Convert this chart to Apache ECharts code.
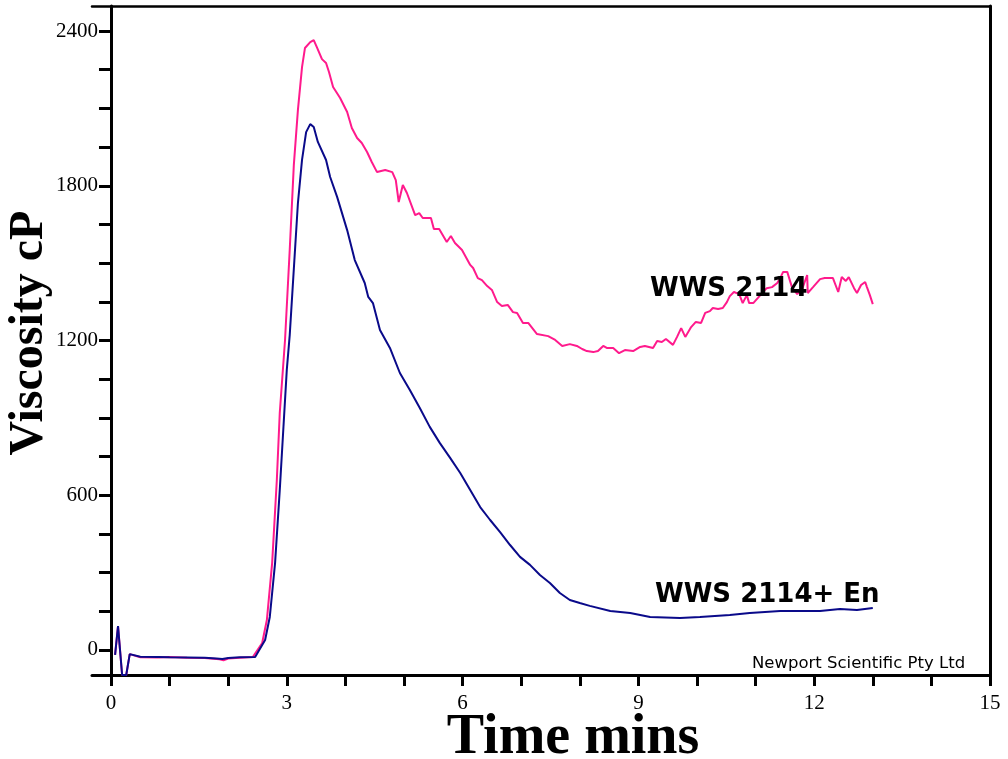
<!DOCTYPE html>
<html>
<head>
<meta charset="utf-8">
<script src="https://cdn.jsdelivr.net/npm/echarts@6/dist/echarts.min.js"></script>
<style>
  html, body { margin: 0; padding: 0; background: #ffffff; }
  #chart { width: 1008px; height: 759px; }
</style>
</head>
<body>
<div id="chart"></div>
<script>
// Viscosity profile (cP) against time (mins) for two samples
const timePink = [0.07, 0.12, 0.19, 0.26, 0.32, 0.5, 0.8, 1.0, 1.3, 1.6, 1.85, 1.92, 2.0, 2.2, 2.42,
  2.58, 2.66, 2.75, 2.83, 2.88, 2.97, 3.05, 3.12, 3.19, 3.26, 3.31, 3.40, 3.46, 3.52, 3.60, 3.67, 3.72,
  3.79, 3.91, 4.03, 4.11, 4.20, 4.28, 4.37, 4.45, 4.54, 4.68, 4.80, 4.86, 4.91, 4.98, 5.05, 5.19, 5.26,
  5.32, 5.46, 5.51, 5.60, 5.73, 5.80, 5.87, 5.99, 6.13, 6.18, 6.26, 6.33, 6.42, 6.50, 6.59, 6.67, 6.77,
  6.86, 6.93, 7.03, 7.12, 7.27, 7.46, 7.58, 7.70, 7.83, 7.95, 8.04, 8.12, 8.23, 8.31, 8.40, 8.46, 8.57,
  8.67, 8.77, 8.91, 9.03, 9.11, 9.25, 9.32, 9.40, 9.47, 9.59, 9.66, 9.73, 9.80, 9.90, 9.98, 10.07, 10.14,
  10.22, 10.27, 10.36, 10.44, 10.51, 10.56, 10.63, 10.72, 10.78, 10.85, 10.89, 10.96, 11.04, 11.11, 11.19,
  11.28, 11.37, 11.42, 11.47, 11.54, 11.62, 11.71, 11.79, 11.88, 11.89, 11.98, 12.10, 12.18, 12.32, 12.41,
  12.47, 12.54, 12.59, 12.68, 12.73, 12.80, 12.87, 12.90, 12.95, 13.00];
const viscPink = [-19, 93, -97, -97, -16, -28, -29, -27, -30, -31, -36, -40, -33, -30, -27,
  27, 116, 337, 659, 919, 1202, 1551, 1880, 2094, 2260, 2334, 2357, 2365, 2334, 2291, 2276, 2241,
  2183, 2140, 2086, 2024, 1985, 1966, 1931, 1892, 1853, 1861, 1853, 1822, 1737, 1803, 1772, 1686, 1694,
  1675, 1675, 1632, 1632, 1582, 1605, 1578, 1551, 1493, 1481, 1442, 1434, 1411, 1396, 1349, 1334, 1338,
  1310, 1307, 1268, 1268, 1225, 1217, 1202, 1179, 1186, 1179, 1167, 1159, 1155, 1159, 1179, 1171, 1171,
  1151, 1163, 1159, 1175, 1179, 1171, 1198, 1194, 1206, 1183, 1214, 1248, 1214, 1252, 1272, 1268, 1307,
  1314, 1326, 1322, 1326, 1349, 1372, 1388, 1380, 1345, 1376, 1345, 1345, 1365, 1384, 1403,
  1407, 1423, 1442, 1466, 1466, 1407, 1380, 1396, 1454, 1384, 1407, 1438, 1442, 1442, 1388,
  1446, 1431, 1446, 1403, 1384, 1415, 1427, 1407, 1376, 1341];

const timeBlue = [0.07, 0.12, 0.19, 0.26, 0.32, 0.5, 0.8, 1.0, 1.3, 1.6, 1.8, 1.9, 2.0, 2.2, 2.46,
  2.63, 2.71, 2.80, 2.88, 2.94, 3.00, 3.05, 3.19, 3.26, 3.33, 3.40, 3.46, 3.53, 3.67, 3.74, 3.86, 4.03,
  4.16, 4.33, 4.39, 4.47, 4.59, 4.76, 4.93, 5.10, 5.27, 5.44, 5.61, 5.79, 5.96, 6.13, 6.30, 6.47, 6.64,
  6.81, 6.98, 7.15, 7.32, 7.49, 7.66, 7.83, 8.00, 8.17, 8.52, 8.86, 9.20, 9.71, 10.05, 10.56, 10.90,
  11.42, 12.10, 12.44, 12.73, 13.00];
const viscBlue = [-19, 93, -97, -97, -16, -26, -27, -28, -29, -30, -33, -35, -31, -28, -27,
  39, 128, 337, 620, 853, 1086, 1221, 1733, 1900, 2008, 2039, 2028, 1970, 1900, 1834, 1756, 1628,
  1512, 1423, 1369, 1345, 1241, 1171, 1074, 1008, 938, 865, 803, 744, 686, 620, 554, 504, 457,
  407, 361, 330, 291, 260, 221, 194, 182, 171, 151, 143, 128, 124, 128, 136, 143,
  151, 151, 159, 155, 163];

// Axis ticks and labels
const xTickValues = [0, 1, 2, 3, 4, 5, 6, 7, 8, 9, 10, 11, 12, 13, 14, 15];
const xLabelValues = [0, 3, 6, 9, 12, 15];
const yTickValues = [0, 150, 300, 450, 600, 750, 900, 1050, 1200, 1350, 1500, 1650, 1800, 1950, 2100, 2250, 2400];
const yLabelValues = [0, 600, 1200, 1800, 2400];

const seriesNames = ['WWS 2114', 'WWS 2114+ En'];
const xTitle = 'Time mins';
const yTitle = 'Viscosity cP';
const footnote = 'Newport Scientific Pty Ltd';

const zip = (xs, ys) => xs.map((x, i) => [x, ys[i]]);

const serif = '"Liberation Serif", "Times New Roman", serif';

const chart = echarts.init(document.getElementById('chart'), null, { renderer: 'canvas' });

chart.setOption({
  animation: false,
  backgroundColor: '#ffffff',
  grid: { left: 92, right: 18, top: 6, bottom: 84, containLabel: false },
  xAxis: [{
    type: 'value',
    min: -0.324,
    max: 15,
    axisLine: { onZero: false, lineStyle: { color: '#000', width: 3 } },
    axisTick: { show: true, customValues: xTickValues, length: 11, inside: false, lineStyle: { color: '#000', width: 3 } },
    axisLabel: { customValues: xLabelValues, margin: 18, color: '#000', fontFamily: serif, fontSize: 21,
      formatter: v => String(v) },
    splitLine: { show: false }
  }, {
    type: 'value',
    position: 'top',
    min: -0.324,
    max: 15,
    axisLine: { onZero: false, lineStyle: { color: '#000', width: 2.5 } },
    axisTick: { show: false },
    axisLabel: { show: false },
    splitLine: { show: false }
  }],
  yAxis: [{
    type: 'value',
    min: -97,
    max: 2497,
    axisLine: { onZero: true, lineStyle: { color: '#000', width: 3 } },
    axisTick: { show: true, customValues: yTickValues, length: 12, lineStyle: { color: '#000', width: 3 } },
    axisLabel: { customValues: yLabelValues, margin: -6, color: '#000', fontFamily: serif, fontSize: 21,
      formatter: v => String(v) },
    splitLine: { show: false }
  }, {
    type: 'value',
    position: 'right',
    min: -97,
    max: 2497,
    axisLine: { show: true, onZero: false, lineStyle: { color: '#000', width: 3 } },
    axisTick: { show: false },
    axisLabel: { show: false },
    splitLine: { show: false }
  }],
  series: [{
    name: seriesNames[0],
    type: 'line',
    data: zip(timePink, viscPink),
    showSymbol: false,
    clip: true,
    lineStyle: { color: '#ff1a8c', width: 2 },
    z: 2
  }, {
    name: seriesNames[1],
    type: 'line',
    data: zip(timeBlue, viscBlue),
    showSymbol: false,
    clip: true,
    lineStyle: { color: '#0a0a8a', width: 2 },
    z: 3
  }],
  graphic: [{
    type: 'text',
    left: 650, top: 276,
    z: 10,
    style: { text: seriesNames[0], font: 'bold 26px "DejaVu Sans", sans-serif', fill: '#000' }
  }, {
    type: 'text',
    left: 655, top: 582,
    z: 10,
    style: { text: seriesNames[1], font: 'bold 26px "DejaVu Sans", sans-serif', fill: '#000' }
  }, {
    type: 'text',
    left: 752, top: 655,
    z: 10,
    style: { text: footnote, font: '16.5px "DejaVu Sans", sans-serif', fill: '#000' }
  }, {
    type: 'text',
    x: 573, y: 739,
    z: 10,
    style: { text: xTitle, font: 'bold 56px ' + serif, fill: '#000', align: 'center', verticalAlign: 'middle' }
  }, {
    type: 'text',
    x: 30, y: 333,
    rotation: Math.PI / 2,
    z: 10,
    style: { text: yTitle, font: 'bold 48px ' + serif, fill: '#000', align: 'center', verticalAlign: 'middle' }
  }]
});
</script>
</body>
</html>
